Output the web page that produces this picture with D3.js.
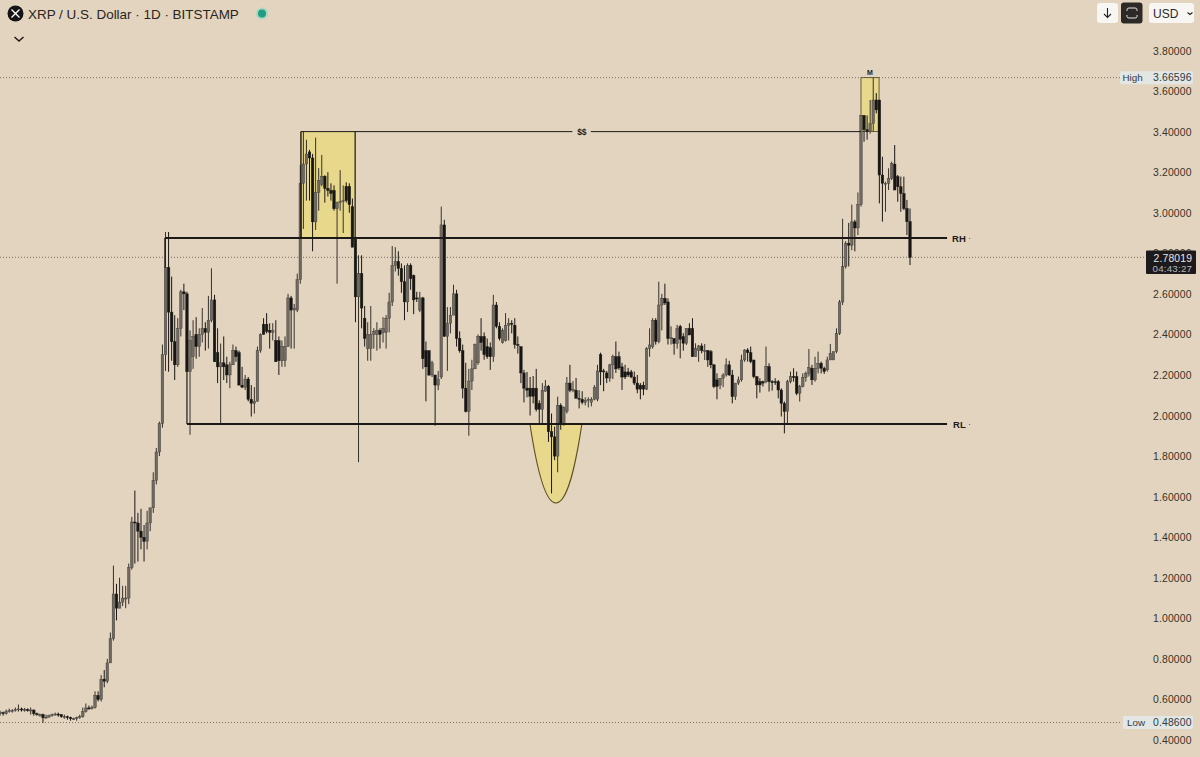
<!DOCTYPE html>
<html><head><meta charset="utf-8">
<script src="https://cdn.jsdelivr.net/npm/d3@7/dist/d3.min.js"></script>
<style>
html,body{margin:0;padding:0;background:#e2d4bf;overflow:hidden}
svg{display:block}
text{font-family:"Liberation Sans",Arial,sans-serif}
</style></head><body><svg id="c" width="1200" height="757"></svg>
<script>
const opens=[.525,.53,.535,.53,.54,.545,.545,.55,.553,.55,
.55,.548,.548,.53,.525,.525,.51,.513,.52,.525,
.528,.525,.515,.515,.51,.505,.505,.51,.515,.54,
.558,.555,.56,.62,.60,.70,.69,.78,.90,1.12,
1.05,1.08,1.10,1.10,1.25,1.475,1.47,1.43,1.40,1.38,
1.47,1.545,1.68,1.82,1.96,2.30,2.73,2.51,2.364,2.25,
2.43,2.61,2.60,2.216,2.29,2.40,2.34,2.40,2.43,2.41,
2.47,2.57,2.31,2.24,2.26,2.25,2.20,2.25,2.32,2.31,
2.15,2.14,2.18,2.08,2.06,2.07,2.32,2.45,2.45,2.42,
2.41,2.37,2.37,2.27,2.27,2.34,2.58,2.52,2.52,2.67,
3.145,3.24,3.30,3.27,2.955,3.10,3.14,3.18,3.12,3.11,
3.11,3.02,3.05,3.055,3.13,3.13,3.03,2.87,2.585,2.70,
2.48,2.33,2.33,2.40,2.40,2.42,2.41,2.41,2.48,2.56,
2.74,2.76,2.725,2.66,2.56,2.74,2.69,2.58,2.52,2.58,
2.32,2.32,2.20,2.20,2.15,2.19,2.94,2.39,2.455,2.495,
2.60,2.38,2.32,2.135,2.02,2.17,2.23,2.26,2.39,2.39,
2.34,2.335,2.29,2.545,2.44,2.36,2.37,2.445,2.455,2.445,
2.35,2.34,2.21,2.135,2.135,2.135,2.135,2.06,2.03,2.12,
2.145,1.92,1.895,1.80,2.05,1.96,2.02,2.16,2.125,2.125,
2.085,2.08,2.065,2.075,2.065,2.08,2.08,2.30,2.22,2.21,
2.185,2.25,2.29,2.29,2.24,2.215,2.215,2.215,2.19,2.16,
2.15,2.15,2.13,2.33,2.34,2.47,2.365,2.545,2.578,2.56,
2.38,2.38,2.355,2.44,2.39,2.356,2.43,2.43,2.29,2.32,
2.343,2.32,2.32,2.315,2.25,2.176,2.15,2.184,2.2,2.25,
2.2,2.093,2.16,2.176,2.274,2.323,2.31,2.274,2.192,2.167,
2.167,2.167,2.241,2.167,2.167,2.167,2.126,2.06,2.02,2.167,
2.192,2.192,2.11,2.143,2.189,2.208,2.233,2.176,2.233,2.258,
2.233,2.225,2.274,2.274,2.315,2.405,2.56,2.735,2.85,2.84,
2.955,2.925,3.04,3.48,3.41,3.40,3.44,3.556,3.556,3.186,
3.145,3.145,3.17,3.24,3.178,3.128,3.095,3.021,2.956];
const highs=[.54,.545,.54,.55,.555,.552,.56,.575,.56,.558,
.556,.56,.55,.535,.53,.53,.525,.525,.53,.535,
.535,.528,.525,.52,.515,.51,.515,.525,.56,.58,
.57,.57,.64,.64,.72,.745,.80,.93,1.26,1.17,
1.20,1.16,1.16,1.27,1.50,1.63,1.52,1.54,1.46,1.53,
1.545,1.72,1.84,1.97,2.35,2.905,2.905,2.685,2.495,2.48,
2.62,2.65,2.61,2.42,2.47,2.485,2.43,2.53,2.46,2.59,
2.726,2.595,2.43,2.355,2.39,2.29,2.265,2.35,2.34,2.32,
2.24,2.20,2.19,2.15,2.14,2.34,2.405,2.48,2.505,2.455,
2.455,2.47,2.39,2.37,2.39,2.60,2.59,2.55,2.70,3.235,
3.40,3.36,3.31,3.29,3.37,3.22,3.285,3.185,3.20,3.145,
3.135,3.055,3.21,3.135,3.15,3.145,3.07,2.88,2.79,2.79,
2.54,2.46,2.54,2.43,2.46,2.43,2.485,2.495,2.605,2.836,
2.83,2.81,2.75,2.74,2.75,2.75,2.695,2.61,2.61,2.585,
2.365,2.32,2.27,2.20,2.22,3.03,2.965,2.535,2.535,2.645,
2.62,2.415,2.35,2.26,2.23,2.275,2.355,2.40,2.48,2.41,
2.38,2.36,2.595,2.56,2.46,2.43,2.505,2.48,2.47,2.48,
2.39,2.34,2.225,2.215,2.19,2.195,2.23,2.075,2.16,2.175,
2.15,2.01,1.945,2.093,2.06,2.045,2.19,2.25,2.17,2.185,
2.125,2.12,2.09,2.09,2.09,2.15,2.25,2.31,2.23,2.22,
2.255,2.30,2.365,2.315,2.26,2.25,2.235,2.225,2.217,2.20,
2.16,2.167,2.337,2.43,2.48,2.48,2.66,2.60,2.65,2.578,
2.44,2.38,2.447,2.447,2.406,2.43,2.455,2.48,2.356,2.348,
2.356,2.353,2.323,2.323,2.253,2.208,2.184,2.208,2.282,2.27,
2.225,2.16,2.192,2.30,2.327,2.332,2.34,2.274,2.192,2.184,
2.172,2.34,2.258,2.175,2.184,2.175,2.134,2.069,2.176,2.217,
2.233,2.217,2.151,2.208,2.217,2.328,2.25,2.29,2.315,2.266,
2.241,2.29,2.353,2.315,2.43,2.57,2.97,2.86,2.95,3.04,
2.965,3.10,3.48,3.48,3.48,3.556,3.666,3.59,3.556,3.276,
3.153,3.219,3.252,3.334,3.186,3.178,3.178,3.063,3.021];
const lows=[.515,.52,.52,.525,.535,.535,.54,.54,.54,.54,
.54,.525,.52,.52,.515,.485,.505,.51,.515,.52,
.515,.51,.505,.5,.495,.5,.495,.505,.51,.535,
.55,.55,.555,.59,.59,.66,.68,.78,.89,.99,
1.05,1.06,1.05,1.07,1.24,1.27,1.28,1.34,1.28,1.34,
1.43,1.52,1.66,1.80,1.94,2.22,2.216,2.27,2.175,2.24,
2.39,2.52,2.216,1.905,2.23,2.28,2.29,2.36,2.32,2.33,
2.46,2.265,2.16,1.96,2.175,2.16,2.135,2.25,2.265,2.15,
2.135,2.126,2.07,1.995,2.01,2.07,2.31,2.40,2.405,2.33,
2.37,2.265,2.20,2.24,2.24,2.34,2.33,2.33,2.51,2.65,
2.92,3.06,3.06,2.81,2.915,3.01,3.13,3.05,3.08,3.06,
3.01,2.65,3.01,2.90,3.05,3.0,2.83,2.46,1.77,2.43,
2.34,2.27,2.27,2.33,2.32,2.33,2.36,2.33,2.41,2.54,
2.71,2.69,2.605,2.47,2.51,2.62,2.50,2.56,2.51,2.23,
2.07,2.195,2.19,1.95,2.125,2.18,2.39,2.22,2.405,2.495,
2.34,2.31,2.085,2.015,1.90,2.126,2.23,2.25,2.32,2.275,
2.28,2.225,2.265,2.43,2.37,2.355,2.365,2.37,2.405,2.33,
2.305,2.16,2.065,2.09,2.0,2.06,2.02,1.96,1.96,2.118,
1.87,1.616,1.78,1.72,1.93,1.95,2.01,2.115,2.115,2.085,
2.035,2.055,2.05,2.04,2.045,2.075,2.07,2.15,2.12,2.16,
2.167,2.18,2.21,2.225,2.126,2.18,2.19,2.184,2.15,2.11,
2.08,2.10,2.126,2.29,2.33,2.35,2.356,2.42,2.545,2.35,
2.35,2.30,2.33,2.282,2.32,2.348,2.397,2.29,2.29,2.265,
2.307,2.274,2.24,2.233,2.135,2.08,2.13,2.14,2.192,2.195,
2.06,2.077,2.151,2.167,2.265,2.266,2.258,2.184,2.085,2.113,
2.143,2.159,2.118,2.123,2.151,2.085,1.995,1.912,1.962,2.159,
2.167,2.10,2.069,2.139,2.167,2.192,2.151,2.167,2.208,2.208,
2.205,2.217,2.274,2.274,2.307,2.397,2.545,2.725,2.735,2.815,
2.81,2.89,3.03,3.35,3.36,3.39,3.40,3.49,3.046,2.956,
3.005,3.112,3.161,3.112,3.054,3.005,3.013,2.89,2.742];
const closes=[.53,.535,.53,.54,.545,.545,.55,.553,.55,.55,
.548,.548,.53,.525,.525,.51,.513,.52,.525,.528,
.525,.515,.515,.51,.505,.505,.51,.515,.54,.558,
.555,.56,.62,.60,.70,.69,.78,.90,1.12,1.05,
1.08,1.10,1.10,1.25,1.475,1.47,1.43,1.40,1.38,1.47,
1.545,1.68,1.82,1.96,2.30,2.73,2.51,2.364,2.25,2.43,
2.61,2.60,2.216,2.37,2.39,2.34,2.40,2.43,2.41,2.47,
2.57,2.265,2.24,2.26,2.24,2.20,2.25,2.32,2.29,2.15,
2.14,2.18,2.08,2.06,2.07,2.32,2.40,2.40,2.415,2.41,
2.42,2.265,2.27,2.34,2.34,2.58,2.52,2.53,2.67,3.145,
3.24,3.29,3.27,2.955,3.10,3.16,3.18,3.12,3.11,3.095,
3.02,3.05,3.055,3.06,3.06,3.04,2.83,2.585,2.70,2.53,
2.38,2.40,2.40,2.415,2.42,2.40,2.43,2.48,2.56,2.74,
2.76,2.725,2.66,2.56,2.74,2.675,2.57,2.575,2.58,2.28,
2.24,2.20,2.26,2.15,2.18,2.94,2.39,2.455,2.495,2.60,
2.38,2.32,2.135,2.02,2.17,2.23,2.35,2.39,2.36,2.30,
2.29,2.29,2.545,2.44,2.38,2.42,2.445,2.455,2.45,2.35,
2.345,2.21,2.135,2.125,2.095,2.095,2.03,2.03,2.125,2.145,
1.92,1.895,1.80,2.05,1.96,2.04,2.16,2.125,2.13,2.085,
2.08,2.065,2.075,2.08,2.08,2.14,2.22,2.215,2.215,2.185,
2.25,2.29,2.23,2.235,2.19,2.19,2.2,2.19,2.16,2.13,
2.13,2.13,2.33,2.348,2.47,2.365,2.545,2.578,2.555,2.38,
2.385,2.355,2.43,2.376,2.356,2.43,2.397,2.29,2.33,2.343,
2.32,2.32,2.274,2.25,2.143,2.143,2.184,2.2,2.25,2.2,
2.093,2.16,2.176,2.274,2.323,2.31,2.266,2.192,2.151,2.151,
2.16,2.241,2.167,2.165,2.165,2.126,2.06,2.02,2.167,2.192,
2.19,2.11,2.143,2.189,2.208,2.238,2.176,2.233,2.258,2.233,
2.217,2.274,2.307,2.315,2.405,2.56,2.735,2.85,2.84,2.955,
2.925,3.04,3.48,3.41,3.40,3.44,3.556,3.507,3.186,3.145,
3.145,3.17,3.243,3.112,3.128,3.095,3.021,2.956,2.78];

const tickValues=[3.8,3.6,3.4,3.2,3.0,2.8,2.6,2.4,2.2,2.0,1.8,1.6,1.4,1.2,1.0,0.8,0.6,0.4];
const highPrice=3.66596, lowPrice=0.486, lastPrice=2.78019;
const rangeHigh=2.875, rangeLow=1.958, liquidityLevel=3.40;
// annotation anchors, in bar index and price
const boxLeftBar=99.2, boxRightBar=116.9, rhStartBar=54.8, rlStartBar=62, levelEndBar=310.1;
const mBoxLeftBar=282, mBoxRightBar=287.9;
const uBars=[173.96,176.25,178.9,182.4,186,188.6,190.9];
const uPrices=[1.958,1.73,1.569,1.569,1.569,1.73,1.958];

const BG="#e2d4bf", YEL="#e8d88b", INK="#1c1815";
const W=1200,H=757;
const x=d3.scaleLinear().domain([0,opens.length-1]).range([-3,910]);
const y=d3.scaleLinear().domain([0.4,3.8]).range([740,50.5]);
const svg=d3.select("#c");
svg.append("rect").attr("width",W).attr("height",H).attr("fill",BG);
const defs=svg.append("defs");
defs.append("filter").attr("id","soft").attr("x","-5%").attr("y","-5%").attr("width","110%").attr("height","110%")
  .append("feGaussianBlur").attr("stdDeviation",0.35);

// dotted price lines
[[highPrice,1120],[lowPrice,1122],[lastPrice,1146]].forEach(([p,e])=>{
  svg.append("line").attr("x1",0).attr("x2",e).attr("y1",y(p)).attr("y2",y(p))
    .attr("stroke","#5c5348").attr("stroke-width",0.8).attr("stroke-dasharray","1 2");
});

// yellow areas
svg.append("rect").attr("x",x(boxLeftBar)).attr("y",y(liquidityLevel))
  .attr("width",x(boxRightBar)-x(boxLeftBar)).attr("height",y(rangeHigh)-y(liquidityLevel)).attr("fill",YEL);
svg.append("rect").attr("x",x(mBoxLeftBar)).attr("y",y(highPrice))
  .attr("width",x(mBoxRightBar)-x(mBoxLeftBar)).attr("height",y(liquidityLevel)-y(highPrice))
  .attr("fill",YEL).attr("stroke","#4a3f22").attr("stroke-width",0.8);
const up=d3.path();
up.moveTo(x(uBars[0]),y(uPrices[0]));
up.bezierCurveTo(x(uBars[1]),y(uPrices[1]),x(uBars[2]),y(uPrices[2]),x(uBars[3]),y(uPrices[3]));
up.bezierCurveTo(x(uBars[4]),y(uPrices[4]),x(uBars[5]),y(uPrices[5]),x(uBars[6]),y(uPrices[6]));
svg.append("path").attr("d",up.toString()).attr("fill",YEL).attr("stroke","#5e5120").attr("stroke-width",1.1);

// candles
const g=svg.append("g").attr("filter","url(#soft)");
const bars=d3.range(opens.length);
g.selectAll("line.w").data(bars).join("line").attr("class","w")
  .attr("x1",i=>x(i)).attr("x2",i=>x(i)).attr("y1",i=>y(highs[i])).attr("y2",i=>y(lows[i]))
  .attr("stroke",i=>closes[i]>=opens[i]?"#36322c":"#1c1815").attr("stroke-width",1);
g.selectAll("rect.b").data(bars).join("rect").attr("class","b")
  .attr("x",i=>x(i)-1.3).attr("width",2.6)
  .attr("y",i=>y(Math.max(opens[i],closes[i])))
  .attr("height",i=>Math.max(1,Math.abs(y(opens[i])-y(closes[i]))))
  .attr("fill",i=>closes[i]>=opens[i]?"#6f6a62":"#191613")
  .attr("stroke",i=>closes[i]>=opens[i]?"#3e3a34":"#191613").attr("stroke-width",0.4);

// levels
function seg(x1,y1,x2,y2,w,c){svg.append("line").attr("x1",x1).attr("y1",y1).attr("x2",x2).attr("y2",y2).attr("stroke",c||INK).attr("stroke-width",w);}
seg(x(rhStartBar),y(rangeHigh),x(levelEndBar),y(rangeHigh),2);
seg(x(rlStartBar),y(rangeLow),x(levelEndBar),y(rangeLow),2);
seg(x(rhStartBar),y(rangeHigh),x(rhStartBar),y(2.73),1.2);
seg(x(rlStartBar),y(rangeLow),x(rlStartBar),y(2.216),1.2);
seg(x(boxLeftBar),y(liquidityLevel),x(187.8),y(liquidityLevel),1);
seg(x(193.8),y(liquidityLevel),x(mBoxLeftBar),y(liquidityLevel),1);
seg(x(boxLeftBar),y(liquidityLevel),x(boxLeftBar),y(rangeHigh),1.4);
seg(x(boxRightBar),y(liquidityLevel),x(boxRightBar),y(rangeHigh),1.2);

function lab(t,xx,yy,size,opts){
  const o=opts||{};
  return svg.append("text").attr("x",xx).attr("y",yy).attr("font-size",size)
    .attr("fill",o.fill||"#1f1a15").attr("font-weight",o.weight||"normal")
    .attr("text-anchor",o.anchor||"start").attr("dominant-baseline","central").text(t);
}
lab("$$",x(190.9),y(liquidityLevel),8.5,{anchor:"middle",weight:"bold"});
lab("M",x(284.9),y(highPrice)-5.5,7,{anchor:"middle",weight:"bold"});
lab("RH",x(levelEndBar)+5,y(rangeHigh),9.5,{weight:"bold"});
lab("RL",x(levelEndBar)+6,y(rangeLow),9.5,{weight:"bold"});
lab("·",x(levelEndBar)+21,y(rangeHigh),9,{fill:"#555"});
lab("·",x(levelEndBar)+21,y(rangeLow),9,{fill:"#555"});

// price axis
const axis=d3.axisRight(y).tickValues(tickValues).tickSize(0).tickPadding(0).tickFormat(d3.format(".5f"));
const ag=svg.append("g").attr("transform","translate(1153,0)").call(axis);
ag.select(".domain").remove();
ag.selectAll("text").attr("font-size",10.4).attr("fill","#3b3225")
  .attr("font-family",'"Liberation Sans",Arial,sans-serif').attr("dy","0.34em").attr("letter-spacing",0.15);

// High / Low badges
function badge(name,val,p,xs){
  svg.append("rect").attr("x",xs).attr("y",y(p)-6.5).attr("width",1193-xs).attr("height",13).attr("rx",1.5).attr("fill","#e3e6e3");
  lab(name,xs+(name==="High"?2.5:4),y(p),9.8,{fill:"#2e3a44"});
  lab(val,1153,y(p),10.4,{fill:"#2e3a44"}).attr("letter-spacing",0.15);
}
badge("High","3.66596",highPrice,1120);
badge("Low","0.48600",lowPrice,1123);

// last price box
svg.append("rect").attr("x",1146).attr("y",250.5).attr("width",50).attr("height",23.5).attr("rx",1).attr("fill","#1c1a1c");
lab("2.78019",1153.5,258,10.4,{fill:"#e8e6e4"}).attr("letter-spacing",0.15);
lab("04:43:27",1152.5,268,9.8,{fill:"#b9b6b3"}).attr("letter-spacing",0.2);

// header
svg.append("circle").attr("cx",15.5).attr("cy",13.5).attr("r",8).attr("fill","#141416");
svg.append("path").attr("d","M11.5 9.5 L15.5 13.5 L19.5 9.5 M11.5 17.5 L15.5 13.5 L19.5 17.5")
  .attr("fill","none").attr("stroke","#fff").attr("stroke-width",1.3);
lab("XRP / U.S. Dollar · 1D · BITSTAMP",28,14,13.45,{fill:"#2a2520"});
svg.append("circle").attr("cx",262).attr("cy",13.5).attr("r",6).attr("fill","#a9d8bf");
svg.append("circle").attr("cx",262).attr("cy",13.5).attr("r",4).attr("fill","#1f9c82");
svg.append("path").attr("d","M14.5 37 L19 41 L23.5 37").attr("fill","none").attr("stroke","#1f1a15").attr("stroke-width",1.5);

// top-right buttons
svg.append("rect").attr("x",1097).attr("y",3).attr("width",21).attr("height",20).attr("rx",3).attr("fill","#f8f6f2");
svg.append("path").attr("d","M1107.5 8 V17 M1104 14 L1107.5 17.5 L1111 14").attr("fill","none").attr("stroke","#222").attr("stroke-width",1.1);
svg.append("rect").attr("x",1121).attr("y",2.5).attr("width",21.5).attr("height",21).attr("rx",3).attr("fill","#2c2927");
svg.append("path").attr("d","M1127 11 V9.5 Q1127 8 1129 8 H1135 Q1137 8 1137 9.5 V11 M1127 15 V16.5 Q1127 18 1129 18 H1135 Q1137 18 1137 16.5 V15")
  .attr("fill","none").attr("stroke","#e8e6e4").attr("stroke-width",1);
svg.append("rect").attr("x",1149).attr("y",3).attr("width",45).attr("height",20).attr("rx",3).attr("fill","#f8f6f2");
lab("USD",1153,13.5,12,{fill:"#2a2a2a"});
svg.append("path").attr("d","M1187.5 12.5 L1190 14.5 L1192.5 12.5").attr("fill","none").attr("stroke","#222").attr("stroke-width",1.1);
</script></body></html>
